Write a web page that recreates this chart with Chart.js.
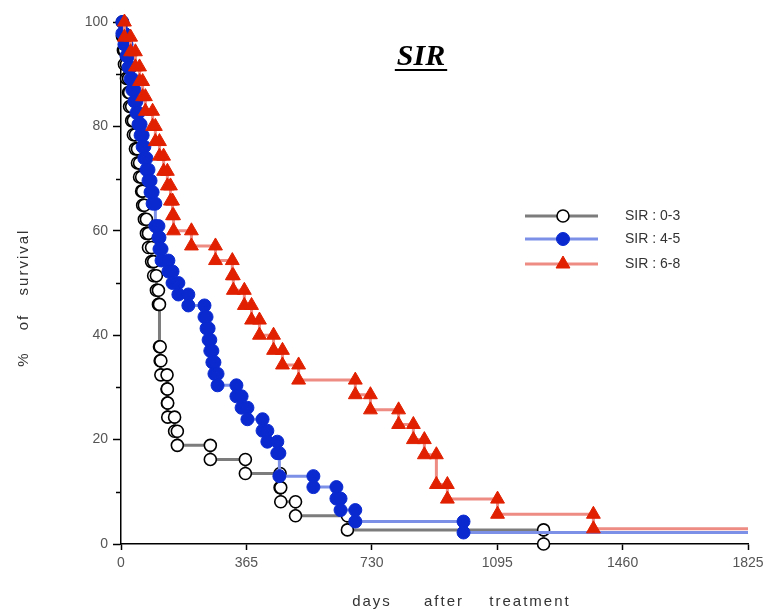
<!DOCTYPE html>
<html>
<head>
<meta charset="utf-8">
<script src="https://cdn.jsdelivr.net/npm/chart.js@4/dist/chart.umd.min.js"></script>
<style>
  html, body { margin: 0; padding: 0; background: #fff; }
  canvas { display: block; }
</style>
</head>
<body>
<canvas id="c" width="771" height="610" style="width:771px;height:610px"></canvas>
<script>
// Kaplan-Meier survival by SIR group: event day and survival (%) after each event.
const sir03Days = [4,7,10,16,22,25,31,36,42,48,54,60,63,68,74,80,89,95,103,109,112,114,116,134,135,136,156,164,260,362,463,465,508,659,1230];
const sir03Surv = [97.3,94.6,91.9,89.2,86.5,83.8,81.1,78.4,75.7,73.0,70.3,67.6,64.9,62.2,59.5,56.8,54.1,51.4,48.6,45.9,37.8,35.1,32.4,29.7,27.0,24.3,21.6,18.9,16.2,13.5,10.8,8.1,5.4,2.7,0];

const sir45Days = [4,10,16,22,28,33,39,45,51,57,63,68,74,80,86,92,100,109,112,118,138,150,167,196,243,249,255,260,266,272,281,336,351,368,412,426,455,461,560,627,639,682,997];
const sir45Surv = [97.8,95.7,93.5,91.3,89.1,87.0,84.8,82.6,80.4,78.3,76.1,73.9,71.7,69.6,67.4,65.2,60.9,58.7,56.5,54.3,52.2,50.0,47.8,45.7,43.5,41.3,39.1,37.0,34.8,32.6,30.4,28.3,26.1,23.9,21.7,19.6,17.4,13.0,10.9,8.7,6.5,4.3,2.2];

const sir68Days = [10,28,42,54,63,71,92,100,112,124,135,144,150,153,205,275,324,327,359,380,403,444,470,517,682,726,808,851,883,918,950,1096,1375];
const sir68Surv = [97.1,94.3,91.4,88.6,85.7,82.9,80.0,77.1,74.3,71.4,68.6,65.7,62.9,60.0,57.1,54.3,51.4,48.6,45.7,42.9,40.0,37.1,34.3,31.4,28.6,25.7,22.9,20.0,17.1,11.4,8.6,5.7,2.9];

const seriesLabels = ['SIR : 0-3', 'SIR : 4-5', 'SIR : 6-8'];
const xTickValues = [0, 365, 730, 1095, 1460, 1825];
const yTickValues = [0, 20, 40, 60, 80, 100];
const yMinorValues = [10, 30, 50, 70, 90];
const lastDay = 1825;

// Turn event lists into step-curve vertices; each event gets a symbol at the top and bottom of its drop.
function stepCurve(days, surv, extendTo) {
  const pts = [{ x: 0, y: 100 }];
  const marks = [false];
  let level = 100;
  days.forEach((d, i) => {
    pts.push({ x: d, y: level }); marks.push(true);
    pts.push({ x: d, y: surv[i] }); marks.push(true);
    level = surv[i];
  });
  if (extendTo !== null && level > 0) { pts.push({ x: extendTo, y: level }); marks.push(false); }
  return { pts, marks };
}

const c03 = stepCurve(sir03Days, sir03Surv, null);
const c45 = stepCurve(sir45Days, sir45Surv, lastDay);
const c68 = stepCurve(sir68Days, sir68Surv, lastDay);

const fontSans = '"Liberation Sans", Arial, sans-serif';

const extras = {
  id: 'extras',
  afterDraw(chart) {
    const { ctx, chartArea, scales } = chart;
    const ys = scales.y;
    ctx.save();
    // minor ticks on the survival axis
    ctx.strokeStyle = '#000';
    ctx.lineWidth = 1.5;
    yMinorValues.forEach(v => {
      const py = Math.round(ys.getPixelForValue(v)) + 0.5;
      ctx.beginPath();
      ctx.moveTo(chartArea.left - 5, py);
      ctx.lineTo(chartArea.left, py);
      ctx.stroke();
    });

    // heading
    ctx.fillStyle = '#000';
    ctx.font = 'italic bold 30px "Liberation Serif", "Times New Roman", serif';
    ctx.textAlign = 'center';
    ctx.textBaseline = 'alphabetic';
    const tx = 421, ty = 65;
    ctx.fillText('SIR', tx, ty);
    const tw = ctx.measureText('SIR').width;
    ctx.fillRect(tx - tw / 2 - 2, ty + 4, tw + 4, 2);

    // legend
    const rows = [216, 239, 264];
    chart.data.datasets.forEach((ds, i) => {
      const y = rows[i];
      ctx.strokeStyle = ds.borderColor;
      ctx.lineWidth = 3;
      ctx.beginPath();
      ctx.moveTo(525, y);
      ctx.lineTo(598, y);
      ctx.stroke();
      ctx.fillStyle = ds.pointBackgroundColor;
      ctx.strokeStyle = ds.pointBorderColor;
      ctx.lineWidth = ds.pointBorderWidth;
      ctx.beginPath();
      if (ds.pointStyle === 'triangle') {
        const r = ds.legendRadius;
        ctx.moveTo(563, y - r);
        ctx.lineTo(563 + r * 0.866, y + r * 0.5);
        ctx.lineTo(563 - r * 0.866, y + r * 0.5);
        ctx.closePath();
      } else {
        ctx.arc(563, y, ds.legendRadius, 0, Math.PI * 2);
      }
      ctx.fill();
      ctx.stroke();
      ctx.fillStyle = '#333';
      ctx.font = '14px ' + fontSans;
      ctx.textAlign = 'left';
      ctx.textBaseline = 'middle';
      ctx.fillText(seriesLabels[i], 625, y);
    });

    // axis titles
    ctx.fillStyle = '#333';
    ctx.font = '15px ' + fontSans;
    ctx.textBaseline = 'alphabetic';
    ctx.textAlign = 'center';
    if ('letterSpacing' in ctx) ctx.letterSpacing = '2px';
    [['days', 372], ['after', 444], ['treatment', 530]].forEach(([w, x]) => ctx.fillText(w, x, 606));
    ctx.translate(28, 300);
    ctx.rotate(-Math.PI / 2);
    [['%', -59], ['of', -22], ['survival', 38]].forEach(([w, x]) => ctx.fillText(w, x, 0));
    ctx.restore();
  }
};

new Chart(document.getElementById('c'), {
  type: 'scatter',
  data: {
    datasets: [
      {
        label: seriesLabels[0],
        data: c03.pts,
        showLine: true,
        borderColor: '#7c7c7c',
        borderWidth: 3,
        pointStyle: 'circle',
        pointRadius: c03.marks.map(m => m ? 6 : 0),
        legendRadius: 6,
        pointBackgroundColor: '#ffffff',
        pointBorderColor: '#000000',
        pointBorderWidth: 1.6,
        clip: false,
        order: 3
      },
      {
        label: seriesLabels[1],
        data: c45.pts,
        showLine: true,
        borderColor: '#7d90e8',
        borderWidth: 3,
        pointStyle: 'circle',
        pointRadius: c45.marks.map(m => m ? 6.5 : 0),
        legendRadius: 6.5,
        pointBackgroundColor: '#0a2ad0',
        pointBorderColor: '#0a2ad0',
        pointBorderWidth: 1,
        clip: false,
        order: 2
      },
      {
        label: seriesLabels[2],
        data: c68.pts,
        showLine: true,
        borderColor: '#ee8c84',
        borderWidth: 3,
        pointStyle: 'triangle',
        pointRadius: c68.marks.map(m => m ? 8 : 0),
        legendRadius: 8,
        pointBackgroundColor: '#e02000',
        pointBorderColor: '#e02000',
        pointBorderWidth: 1,
        clip: false,
        order: 1
      }
    ]
  },
  options: {
    responsive: false,
    devicePixelRatio: 1,
    animation: false,
    layout: { padding: { top: 22, right: 23, left: 0, bottom: 0 } },
    plugins: { legend: { display: false }, tooltip: { enabled: false } },
    scales: {
      x: {
        type: 'linear',
        min: 0,
        max: lastDay,
        afterBuildTicks: s => { s.ticks = xTickValues.map(v => ({ value: v })); },
        afterFit: s => { s.height = 66; },
        grid: { drawOnChartArea: false, drawTicks: true, tickLength: 6, color: '#000', tickWidth: 1.5 },
        border: { display: true, color: '#000', width: 1.5 },
        ticks: { color: '#555', font: { family: fontSans, size: 14 }, padding: 5, maxRotation: 0, autoSkip: false, callback: v => String(v) }
      },
      y: {
        type: 'linear',
        min: 0,
        max: 100,
        afterBuildTicks: s => { s.ticks = yTickValues.map(v => ({ value: v })); },
        afterFit: s => { s.width = 121; },
        grid: { drawOnChartArea: false, drawTicks: true, tickLength: 8, color: '#000', tickWidth: 1.5 },
        border: { display: true, color: '#000', width: 1.5 },
        ticks: { color: '#555', font: { family: fontSans, size: 14 }, padding: 5, callback: v => String(v) }
      }
    }
  },
  plugins: [extras]
});
</script>
</body>
</html>
